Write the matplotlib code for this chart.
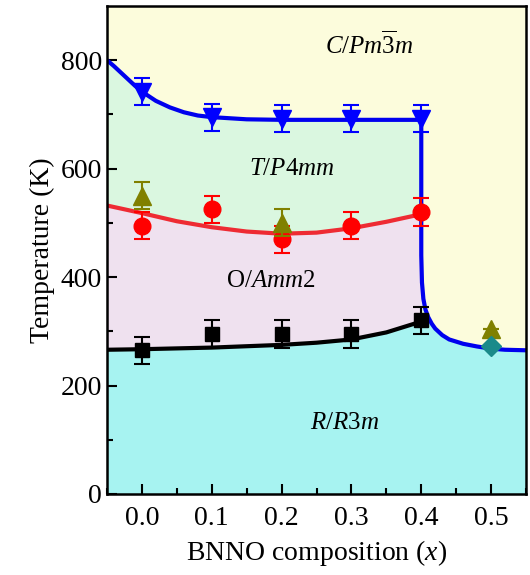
import matplotlib
matplotlib.use("Agg")
import matplotlib.pyplot as plt
import numpy as np

plt.rcParams['font.family'] = ['Liberation Serif', 'DejaVu Serif']
plt.rcParams['mathtext.fontset'] = 'custom'
plt.rcParams['mathtext.rm'] = 'Liberation Serif'
plt.rcParams['mathtext.it'] = 'Liberation Serif:italic'

# ---- data ----
x_pts = [0.0, 0.1, 0.2, 0.3, 0.4]
T_cubic = [742, 695, 692, 692, 692]          # blue down triangles (C -> T)
T_tetra = [495, 525, 470, 495, 520]          # red circles (T -> O)
T_rhombo = [265, 295, 295, 295, 320]         # black squares (O -> R)
x_olive = [0.0, 0.2, 0.5]
T_olive = [550, 500, 305]                    # olive up triangles
olive_err = [25, 25, 0]
x_diamond = [0.5]
T_diamond = [272]
err = 25

# boundary lines
blue_x = [-0.05, -0.04, -0.03, -0.02, -0.01, 0.0, 0.02, 0.04, 0.06, 0.08, 0.1, 0.15, 0.2, 0.3, 0.4,
          0.4, 0.4, 0.401, 0.403, 0.406, 0.41, 0.415, 0.42, 0.43, 0.44, 0.46, 0.48, 0.5, 0.52, 0.55]
blue_T = [800, 789, 777, 765, 753, 742, 725, 713, 704, 698, 695, 691, 690, 690, 690,
          600, 440, 390, 360, 340, 326, 314, 305, 293, 285, 277, 272, 268, 266, 265]
red_x = [-0.05, 0.0, 0.05, 0.1, 0.15, 0.2, 0.25, 0.3, 0.35, 0.4]
red_T = [532, 518, 503, 492, 484, 480, 482, 490, 502, 516]
black_x = [-0.05, 0.0, 0.1, 0.2, 0.25, 0.3, 0.35, 0.4]
black_T = [266, 267, 270, 275, 279, 285, 298, 318]

# ---- colours ----
c_yellow = '#FCFCDC'
c_green = '#DAF7E0'
c_pink = '#EFE1EF'
c_cyan = '#A7F3F1'

fig = plt.figure(figsize=(5.3, 5.75), dpi=100)
ax = fig.add_axes([0.2019, 0.1409, 0.7906, 0.8487])
ax.set_xlim(-0.05, 0.55)
ax.set_ylim(0, 900)
ax.set_facecolor(c_yellow)

bx = np.array(blue_x); bT = np.array(blue_T)
# green region below blue curve
ax.fill(np.concatenate([bx, [0.55, -0.05]]), np.concatenate([bT, [0, 0]]),
        color=c_green, lw=0, zorder=0.5)
# pink below red
ax.fill_between(red_x, 0, red_T, color=c_pink, lw=0, zorder=0.6)
# cyan below black + below blue tail
mask = (bx >= 0.4) & (bT <= 318)
cx = np.concatenate([black_x, bx[mask], [0.55, -0.05]])
cT = np.concatenate([black_T, bT[mask], [0, 0]])
ax.fill(cx, cT, color=c_cyan, lw=0, zorder=0.7)

ax.plot(blue_x, blue_T, color='#0000EE', lw=3, zorder=2, solid_capstyle='butt')
ax.plot(red_x, red_T, color='#EE2B33', lw=3, zorder=2)
ax.plot(black_x, black_T, color='black', lw=3, zorder=2)

ax.errorbar(x_pts, T_cubic, yerr=err, fmt='v', color='#0000FF', ms=13, capsize=6,
            elinewidth=1.5, capthick=1.5, zorder=3)
ax.errorbar(x_pts, T_tetra, yerr=err, fmt='o', color='#FF0000', ms=12, capsize=6,
            elinewidth=1.5, capthick=1.5, zorder=3)
ax.errorbar(x_pts, T_rhombo, yerr=err, fmt='s', color='black', ms=10, capsize=6,
            elinewidth=1.5, capthick=1.5, zorder=3)
ax.errorbar(x_olive, T_olive, yerr=olive_err, fmt='^', color='#808000', ms=13, capsize=6,
            elinewidth=1.5, capthick=1.5, zorder=3.5)
ax.plot(x_diamond, T_diamond, 'D', color='#1A8A8A', ms=10, zorder=4)

ax.text(0.325, 828, r'$\mathit{C}/\mathit{Pm}\overline{3}\mathit{m}$', fontsize=18, ha='center', va='center')
ax.text(0.215, 600, r'$\mathit{T}/\mathit{P}4\mathit{mm}$', fontsize=18, ha='center', va='center')
ax.text(0.185, 393, r'$\mathrm{O}/\mathit{Amm}2$', fontsize=18, ha='center', va='center')
ax.text(0.29, 131, r'$\mathit{R}/\mathit{R}3\mathit{m}$', fontsize=18, ha='center', va='center')

ax.set_xticks([0.0, 0.1, 0.2, 0.3, 0.4, 0.5])
ax.set_xticklabels(['0.0', '0.1', '0.2', '0.3', '0.4', '0.5'])
ax.set_xticks(np.arange(-0.05, 0.551, 0.05), minor=True)
ax.set_yticks([0, 200, 400, 600, 800])
ax.set_yticks([100, 300, 500, 700], minor=True)
ax.tick_params(which='both', direction='in', top=False, right=False, labelsize=20, width=1.5)
ax.tick_params(which='major', length=7)
ax.tick_params(which='minor', length=4)
ax.tick_params(axis='x', pad=9)
for s in ax.spines.values():
    s.set_linewidth(1.8)

ax.set_xlabel(r'BNNO composition ($\mathit{x}$)', fontsize=20, labelpad=5)
ax.set_ylabel('Temperature (K)', fontsize=20, labelpad=4)

fig.savefig('out.png', dpi=100)
